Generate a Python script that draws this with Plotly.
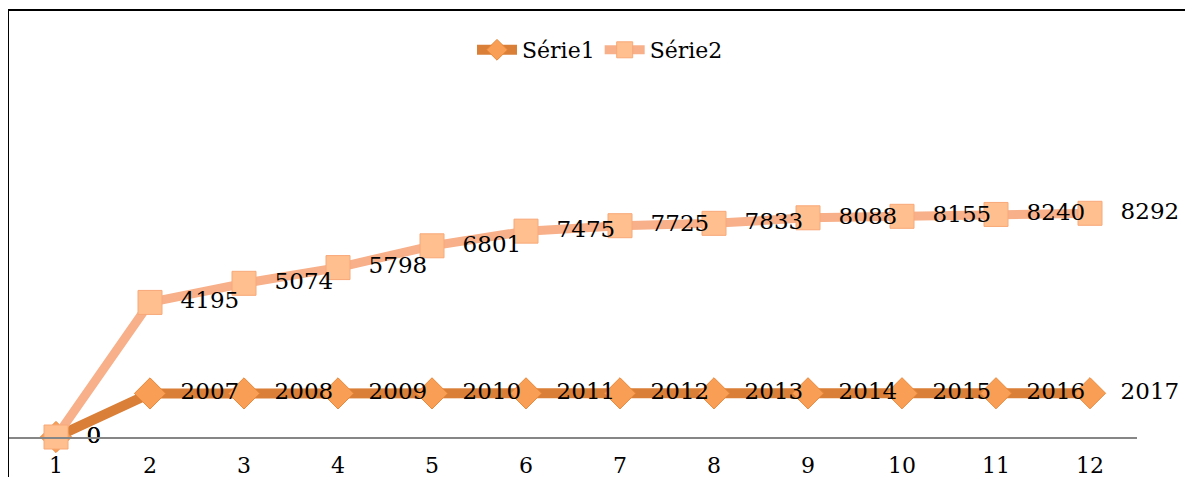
import plotly.graph_objects as go

categories = ["1", "2", "3", "4", "5", "6", "7", "8", "9", "10", "11", "12"]
serie1 = [0, 2007, 2008, 2009, 2010, 2011, 2012, 2013, 2014, 2015, 2016, 2017]
serie2 = [0, 4195, 5074, 5798, 6801, 7475, 7725, 7833, 8088, 8155, 8240, 8292]

# the page body has an 8px margin, so the figure is drawn 8px smaller
W, H = 1185, 469
ML, MR, MT, MB = 1, 56, 2, 40
plot_w = W - ML - MR
plot_h = H - MT - MB

label_font = dict(family="DejaVu Serif", size=23, color="#000000")

fig = go.Figure()
fig.add_trace(go.Scatter(
    x=categories, y=serie1, name="Série1", stackgroup="s", fill="none",
    mode="lines+markers+text",
    line=dict(color="#DA7F37", width=10),
    marker=dict(symbol="diamond", size=24, color="#F89E55",
                line=dict(color="#E8883A", width=1)),
    text=[str(v) for v in serie1], texttemplate="\u00a0\u00a0%{text}",
    textposition="middle right", textfont=label_font, cliponaxis=False,
    hoverinfo="skip",
))
fig.add_trace(go.Scatter(
    x=categories, y=serie2, name="Série2", stackgroup="s", fill="none",
    mode="lines+markers+text",
    line=dict(color="#F7B08A", width=9),
    marker=dict(symbol="square", size=24, color="#FFBF8E",
                line=dict(color="#F8A878", width=1)),
    text=[str(v) for v in serie2], texttemplate="\u00a0\u00a0%{text}",
    textposition="middle right", textfont=label_font, cliponaxis=False,
    hoverinfo="skip",
))

fig.update_layout(
    width=W, height=H,
    margin=dict(l=ML, r=MR, t=MT, b=MB, autoexpand=False),
    paper_bgcolor="white", plot_bgcolor="white",
    showlegend=True,
    legend=dict(orientation="h", x=(600 - 8 - ML) / plot_w, xanchor="center",
                y=(H - MB - 42) / plot_h, yanchor="middle",
                font=dict(family="DejaVu Serif", size=22, color="#000000"),
                bgcolor="rgba(0,0,0,0)", itemwidth=40),
    xaxis=dict(type="category", range=[-0.5, 11.5], showgrid=False,
               showline=True, linecolor="#868686", linewidth=2,
               ticks="", ticklabelstandoff=8, automargin=False,
               tickfont=dict(family="DejaVu Serif", size=22, color="#000000"),
               zeroline=False, fixedrange=True),
    yaxis=dict(range=[0, plot_h / 0.0217], showgrid=False, showline=False,
               showticklabels=False, ticks="", zeroline=False, automargin=False),
    shapes=[
        dict(type="line", xref="paper", yref="paper",
             x0=-1 / plot_w, x1=-1 / plot_w, y0=-MB / plot_h, y1=1,
             line=dict(color="#000000", width=2)),
        dict(type="line", xref="paper", yref="paper",
             x0=-1 / plot_w, x1=(W - ML) / plot_w, y0=1, y1=1,
             line=dict(color="#000000", width=2)),
    ],
)

fig.write_html("out.html")
